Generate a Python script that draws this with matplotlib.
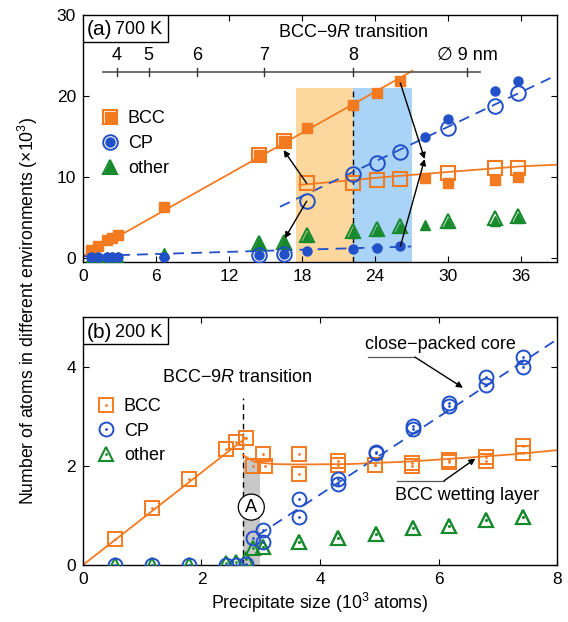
import numpy as np
import matplotlib
matplotlib.use('Agg')
import matplotlib.pyplot as plt
from matplotlib.patches import Rectangle

plt.rcParams['font.family'] = ['Liberation Sans', 'DejaVu Sans']
plt.rcParams['mathtext.fontset'] = 'custom'
plt.rcParams['mathtext.rm'] = 'Liberation Sans'
plt.rcParams['mathtext.it'] = 'Liberation Sans:italic'
plt.rcParams['font.size'] = 13

ORANGE = '#F47A20'
BLUE = '#2250C8'
GREEN = '#178A2C'
FS = 13

# ---- panel (a) 700 K data (size in 10^3 atoms, counts in 10^3) ----
a_bcc_fill_n = [0.7, 1.2, 2.0, 2.4, 2.9, 6.7, 14.5, 16.5, 18.4, 22.2, 24.2, 26.1, 28.1, 30.0, 33.9, 35.8]
a_bcc_fill_v = [1.0, 1.5, 2.2, 2.5, 2.8, 6.3, 12.7, 14.4, 16.0, 18.9, 20.4, 21.8, 9.9, 9.3, 9.6, 10.0]
a_bcc_open_n = [14.5, 16.5, 18.4, 22.2, 24.2, 26.1, 30.0, 33.9, 35.8]
a_bcc_open_v = [12.7, 14.4, 9.2, 9.3, 9.6, 9.7, 10.5, 11.1, 11.1]

a_cp_fill_n = [0.7, 1.2, 2.0, 2.4, 2.9, 6.7, 14.5, 16.5, 18.4, 22.2, 24.2, 26.1, 28.1, 30.0, 33.9, 35.8]
a_cp_fill_v = [0.1, 0.1, 0.1, 0.1, 0.1, 0.1, 0.4, 0.5, 0.8, 1.05, 1.2, 1.4, 14.9, 17.2, 20.6, 21.9]
a_cp_open_n = [14.5, 16.5, 18.4, 22.2, 24.2, 26.1, 30.0, 33.9, 35.8]
a_cp_open_v = [0.4, 0.5, 7.0, 10.3, 11.7, 13.1, 16.0, 18.7, 20.3]

a_oth_fill_n = [0.7, 1.2, 2.0, 2.4, 2.9, 6.7, 14.5, 16.5, 18.4, 22.2, 24.2, 26.1, 28.1, 30.0, 33.9, 35.8]
a_oth_fill_v = [0.1, 0.1, 0.1, 0.1, 0.1, 0.6, 1.8, 1.9, 2.6, 3.1, 3.3, 3.7, 4.1, 4.3, 4.6, 4.9]
a_oth_open_n = [14.5, 16.5, 18.4, 22.2, 24.2, 26.1, 30.0, 33.9, 35.8]
a_oth_open_v = [1.8, 1.9, 2.8, 3.3, 3.5, 3.9, 4.5, 4.9, 5.2]

a_bcc_fit1_n = [0, 27.1]
a_bcc_fit1_v = [0.2, 23.1]
a_bcc_fit2_n = [17.8, 22.2, 24.2, 30.0, 36.0, 39.0]
a_bcc_fit2_v = [9.0, 9.6, 9.9, 10.6, 11.3, 11.5]
a_cp_fit1_n = [0, 27.0]
a_cp_fit1_v = [0.2, 1.4]
a_cp_fit2_n = [16.2, 39.0]
a_cp_fit2_v = [6.3, 22.6]

diam_ticks = [4, 5, 6, 7, 8, 9]
diam_labels = ['4', '5', '6', '7', '8', '\u2205 9 nm']
atoms_per_nm3 = 0.04334  # 10^3 atoms per nm^3 of diameter cubed

# ---- panel (b) 200 K data ----
b_bcc_x = [0.54, 1.17, 1.79, 2.42, 2.59, 2.75, 2.87, 3.04, 3.07, 3.65, 3.65, 4.31, 4.31,
           4.93, 4.93, 5.55, 5.55, 6.18, 6.18, 6.80, 6.80, 7.42, 7.42]
b_bcc_y = [0.52, 1.15, 1.74, 2.35, 2.49, 2.57, 2.00, 2.24, 2.00, 2.24, 1.84, 2.10, 2.03,
           2.02, 2.02, 2.07, 2.00, 2.13, 2.08, 2.18, 2.10, 2.40, 2.27]
b_cp_x = [0.54, 1.17, 1.79, 2.42, 2.59, 2.75, 2.87, 3.04, 3.04, 3.65, 3.65, 4.31, 4.31,
          4.94, 4.94, 5.56, 5.56, 6.18, 6.18, 6.80, 6.80, 7.43, 7.43]
b_cp_y = [0, 0, 0, 0, 0, 0.03, 0.55, 0.70, 0.47, 1.33, 0.96, 1.73, 1.63,
          2.27, 2.29, 2.81, 2.74, 3.28, 3.21, 3.80, 3.64, 4.21, 4.00]
b_oth_y = [0, 0, 0, 0.05, 0.07, 0.12, 0.35, 0.36, 0.36, 0.47, 0.47, 0.55, 0.55,
           0.63, 0.63, 0.74, 0.74, 0.79, 0.79, 0.90, 0.90, 0.97, 0.97]

b_bcc_fit1_x = [0, 2.75]
b_bcc_fit1_y = [0, 2.57]
b_bcc_fit2_x = [2.70, 2.9, 3.2, 3.6, 4.5, 5.5, 6.5, 7.3, 8.0]
b_bcc_fit2_y = [2.22, 2.08, 2.04, 2.03, 2.04, 2.09, 2.17, 2.24, 2.32]
b_cp_fit_x = [2.95, 8.0]
b_cp_fit_y = [0.6, 4.56]


fig = plt.figure(figsize=(5.68, 6.22), dpi=100)
ax1 = fig.add_axes([0.146, 0.579, 0.835, 0.397])
ax2 = fig.add_axes([0.146, 0.0916, 0.835, 0.398])

for ax in (ax1, ax2):
    ax.tick_params(direction='in', top=True, right=True, length=4, width=0.8, labelsize=12.5, pad=5)
    for s in ax.spines.values():
        s.set_linewidth(1.0)

# ----------------- panel (a) -----------------
ax1.set_xlim(0, 39)
ax1.set_ylim(-0.5, 30)
ax1.set_xticks([0, 6, 12, 18, 24, 30, 36])
ax1.set_yticks([0, 10, 20, 30])

ax1.axvspan(17.5, 22.2, ymin=0, ymax=(21.0 + 0.5) / 30.5, color='#FDD89E', lw=0, zorder=0)
ax1.axvspan(22.2, 27.1, ymin=0, ymax=(21.0 + 0.5) / 30.5, color='#A9D3F7', lw=0, zorder=0)
ax1.plot([22.2, 22.2], [-0.5, 21.0], color='k', lw=1.0, ls=(0, (4, 3)), zorder=1)

ax1.plot(a_bcc_fit1_n, a_bcc_fit1_v, color=ORANGE, lw=1.3, zorder=2)
ax1.plot(a_bcc_fit2_n, a_bcc_fit2_v, color=ORANGE, lw=1.3, zorder=2)
ax1.plot(a_cp_fit1_n, a_cp_fit1_v, color=BLUE, lw=1.3, ls=(0, (6, 4)), zorder=2)
ax1.plot(a_cp_fit2_n, a_cp_fit2_v, color=BLUE, lw=1.3, ls=(0, (6, 4)), zorder=2)

h_bf, = ax1.plot(a_bcc_fill_n, a_bcc_fill_v, 's', color=ORANGE, ms=7, mec=ORANGE, ls='none', zorder=4)
h_bo, = ax1.plot(a_bcc_open_n, a_bcc_open_v, 's', mfc='none', mec=ORANGE, ms=10.5, mew=1.5, ls='none', zorder=4)
h_cf, = ax1.plot(a_cp_fill_n, a_cp_fill_v, 'o', color=BLUE, ms=6.5, ls='none', zorder=4)
h_co, = ax1.plot(a_cp_open_n, a_cp_open_v, 'o', mfc='none', mec=BLUE, ms=10.5, mew=1.4, ls='none', zorder=4)
h_of, = ax1.plot(a_oth_fill_n, a_oth_fill_v, '^', color=GREEN, ms=7, ls='none', zorder=3)
h_oo, = ax1.plot(a_oth_open_n, a_oth_open_v, '^', mfc='none', mec=GREEN, ms=10.5, mew=1.5, ls='none', zorder=3)

ax1.legend([(h_bo, h_bf), (h_co, h_cf), (h_oo, h_of)], ['BCC', 'CP', 'other'],
           loc='upper left', bbox_to_anchor=(0.039, 0.613), frameon=False,
           handlelength=1.0, handletextpad=0.46, labelspacing=0.44,
           borderpad=0, borderaxespad=0, fontsize=FS)

# arrows between the two regimes
arr = dict(arrowstyle='-|>', color='k', lw=1.0, mutation_scale=9, shrinkA=0, shrinkB=0)
ax1.annotate('', xy=(16.5, 13.3), xytext=(18.4, 9.2), arrowprops=arr, zorder=5)
ax1.annotate('', xy=(16.6, 2.4), xytext=(18.4, 7.0), arrowprops=arr, zorder=5)
ax1.annotate('', xy=(28.1, 12.2), xytext=(26.1, 21.6), arrowprops=arr, zorder=5)
ax1.annotate('', xy=(28.1, 12.2), xytext=(26.1, 1.4), arrowprops=arr, zorder=5)

# diameter scale inside panel (a)
d_pos = [atoms_per_nm3 * d ** 3 for d in diam_ticks]
ax1.plot([atoms_per_nm3 * 3.37 ** 3, atoms_per_nm3 * 9.1 ** 3], [23.0, 23.0], color='#555555', lw=1.2, zorder=3)
for p, lab in zip(d_pos, diam_labels):
    ax1.plot([p, p], [22.5, 23.5], color='#333333', lw=1.0, zorder=3)
    ax1.text(p, 24.0, lab, ha='center', va='bottom', fontsize=FS, family=['Liberation Sans', 'DejaVu Sans'])
ax1.text(22.2, 27.8, 'BCC\u22129$R$ transition', ha='center', va='center', fontsize=FS)

ax1.add_patch(Rectangle((0, 0.891), 0.179, 0.109, transform=ax1.transAxes, fc='white', ec='k', lw=1.0, zorder=6))
ax1.text(0.008, 0.941, '(a)', transform=ax1.transAxes, ha='left', va='center', fontsize=15, zorder=7)
ax1.text(0.067, 0.941, '700 K', transform=ax1.transAxes, ha='left', va='center', fontsize=FS, zorder=7)

# ----------------- panel (b) -----------------
ax2.set_xlim(0, 8)
ax2.set_ylim(0, 5)
ax2.set_xticks([0, 2, 4, 6, 8])
ax2.set_yticks([0, 2, 4])

ax2.axvspan(2.70, 2.99, ymin=0, ymax=2.13 / 5, color='#C8C8C8', lw=0, zorder=0)
ax2.plot([2.70, 2.70], [0, 3.38], color='k', lw=1.0, ls=(0, (4, 3)), zorder=1)

ax2.plot(b_bcc_fit1_x, b_bcc_fit1_y, color=ORANGE, lw=1.3, zorder=2)
ax2.plot(b_bcc_fit2_x, b_bcc_fit2_y, color=ORANGE, lw=1.3, zorder=2)
ax2.plot(b_cp_fit_x, b_cp_fit_y, color=BLUE, lw=1.3, ls=(0, (6, 4)), zorder=2)

g_b, = ax2.plot(b_bcc_x, b_bcc_y, 's', mfc='none', mec=ORANGE, ms=10, mew=1.4, ls='none', zorder=4)
g_bd, = ax2.plot(b_bcc_x, b_bcc_y, '.', color=ORANGE, ms=2, ls='none', zorder=4)
g_c, = ax2.plot(b_cp_x, b_cp_y, 'o', mfc='none', mec=BLUE, ms=10, mew=1.4, ls='none', zorder=4)
g_cd, = ax2.plot(b_cp_x, b_cp_y, '.', color=BLUE, ms=2, ls='none', zorder=4)
g_o, = ax2.plot(b_cp_x, b_oth_y, '^', mfc='none', mec=GREEN, ms=9.5, mew=1.5, ls='none', zorder=3)
g_od, = ax2.plot(b_cp_x, b_oth_y, '.', color=GREEN, ms=2, ls='none', zorder=3)

ax2.legend([(g_b, g_bd), (g_c, g_cd), (g_o, g_od)], ['BCC', 'CP', 'other'],
           loc='upper left', bbox_to_anchor=(0.030, 0.674), frameon=False,
           handlelength=1.0, handletextpad=0.48, labelspacing=0.42,
           borderpad=0, borderaxespad=0, fontsize=FS)

ax2.text(2.61, 3.78, 'BCC\u22129$R$ transition', ha='center', va='center', fontsize=FS)
ax2.text(2.84, 1.17, 'A', ha='center', va='center', fontsize=FS, zorder=6,
         bbox=dict(boxstyle='circle,pad=0.25', fc='white', ec='k', lw=0.9))

ax2.text(6.03, 4.46, 'close\u2212packed core', ha='center', va='center', fontsize=FS)
ax2.plot([4.81, 5.60], [4.20, 4.20], color='#555555', lw=0.9)
ax2.annotate('', xy=(6.41, 3.58), xytext=(5.60, 4.20), arrowprops=arr)
ax2.text(6.48, 1.41, 'BCC wetting layer', ha='center', va='center', fontsize=FS)
ax2.plot([5.30, 6.09], [1.70, 1.70], color='#555555', lw=0.9)
ax2.annotate('', xy=(6.62, 2.15), xytext=(6.09, 1.70), arrowprops=arr)

ax2.add_patch(Rectangle((0, 0.891), 0.179, 0.109, transform=ax2.transAxes, fc='white', ec='k', lw=1.0, zorder=6))
ax2.text(0.008, 0.941, '(b)', transform=ax2.transAxes, ha='left', va='center', fontsize=15, zorder=7)
ax2.text(0.067, 0.941, '200 K', transform=ax2.transAxes, ha='left', va='center', fontsize=FS, zorder=7)

ax2.set_xlabel('Precipitate size (10$^3$ atoms)', fontsize=12.7, labelpad=3)
fig.text(0.049, 0.50, 'Number of atoms in different environments (\u00d710$^3$)',
         rotation=90, ha='center', va='center', fontsize=12.7)

fig.savefig('out.png', dpi=100)
